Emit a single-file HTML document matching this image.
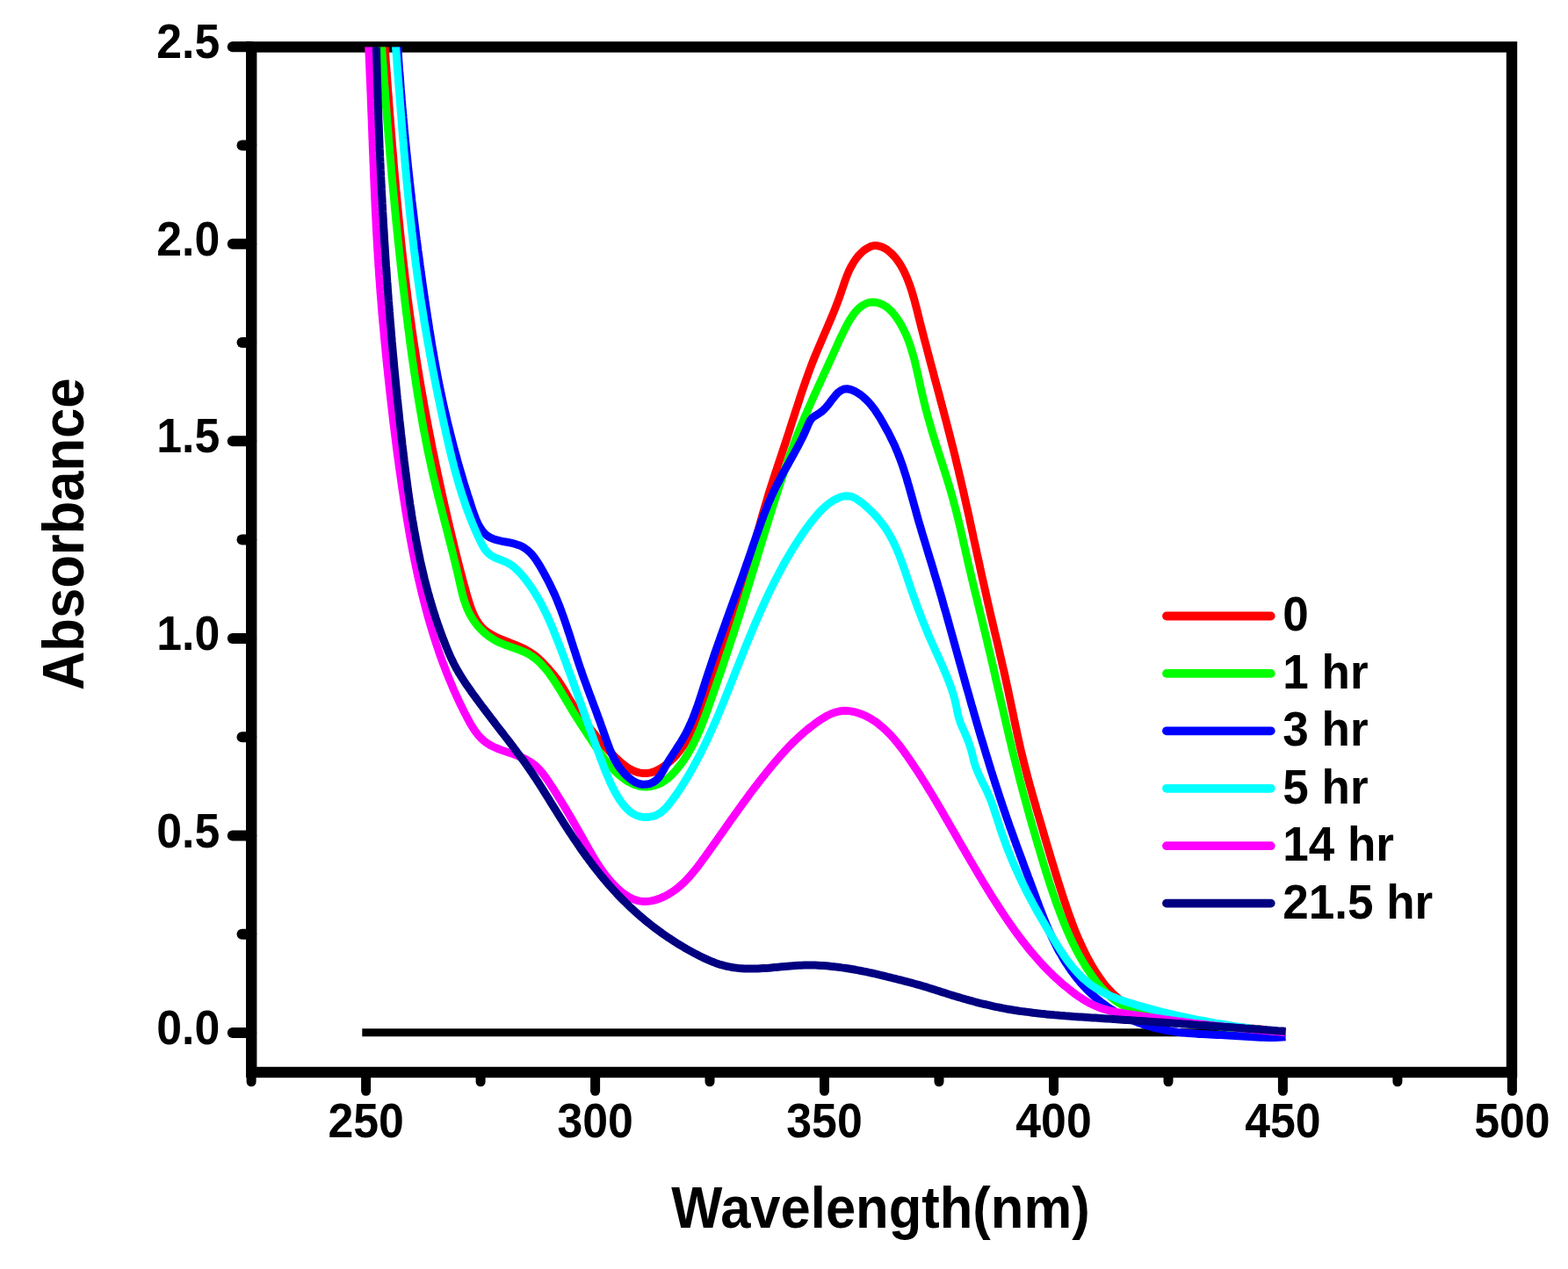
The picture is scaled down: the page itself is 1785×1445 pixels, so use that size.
<!DOCTYPE html>
<html lang="en"><head><meta charset="utf-8"><title>Absorbance vs Wavelength</title>
<style>
html,body{margin:0;padding:0;background:#fff;}
body{width:1785px;height:1445px;overflow:hidden;}
svg{display:block;}
text{font-family:"Liberation Sans",Arial,Helvetica,sans-serif;font-weight:bold;fill:#000;}
.tk{font-size:56px;}
.ti{font-size:66px;}
.lg{font-size:55px;}
</style></head><body>
<svg xmlns="http://www.w3.org/2000/svg" width="1785" height="1445" viewBox="0 0 1785 1445">
<rect x="0" y="0" width="1785" height="1445" fill="#fff"/>
<defs><clipPath id="plot"><rect x="286.2" y="53.5" width="1434.8" height="1167.5"/></clipPath></defs>

<rect x="286.2" y="53.5" width="1434.8" height="1167.5" fill="none" stroke="#000" stroke-width="12.4" stroke-linejoin="miter"/>
<g stroke="#000" stroke-width="12" stroke-linecap="round" fill="none">
<line x1="286.2" y1="1176.0" x2="264.8" y2="1176.0"/>
<line x1="286.2" y1="951.4" x2="264.8" y2="951.4"/>
<line x1="286.2" y1="726.9" x2="264.8" y2="726.9"/>
<line x1="286.2" y1="502.3" x2="264.8" y2="502.3"/>
<line x1="286.2" y1="277.8" x2="264.8" y2="277.8"/>
<line x1="286.2" y1="53.2" x2="264.8" y2="53.2"/>
<line x1="286.2" y1="1063.7" x2="275.5" y2="1063.7"/>
<line x1="286.2" y1="839.2" x2="275.5" y2="839.2"/>
<line x1="286.2" y1="614.6" x2="275.5" y2="614.6"/>
<line x1="286.2" y1="390.0" x2="275.5" y2="390.0"/>
<line x1="286.2" y1="165.5" x2="275.5" y2="165.5"/>
</g><g stroke="#000" stroke-width="11" stroke-linecap="round" fill="none">
<line x1="416.6" y1="1221.0" x2="416.6" y2="1242.3"/>
<line x1="677.6" y1="1221.0" x2="677.6" y2="1242.3"/>
<line x1="938.5" y1="1221.0" x2="938.5" y2="1242.3"/>
<line x1="1199.5" y1="1221.0" x2="1199.5" y2="1242.3"/>
<line x1="1460.4" y1="1221.0" x2="1460.4" y2="1242.3"/>
<line x1="1721.4" y1="1221.0" x2="1721.4" y2="1242.3"/>
<line x1="286.1" y1="1221.0" x2="286.1" y2="1231.8"/>
<line x1="547.1" y1="1221.0" x2="547.1" y2="1231.8"/>
<line x1="808.0" y1="1221.0" x2="808.0" y2="1231.8"/>
<line x1="1069.0" y1="1221.0" x2="1069.0" y2="1231.8"/>
<line x1="1330.0" y1="1221.0" x2="1330.0" y2="1231.8"/>
<line x1="1590.9" y1="1221.0" x2="1590.9" y2="1231.8"/>
</g>
<g class="tk" text-anchor="end">
<text transform="translate(250.2 1189.1) scale(0.925 1)">0.0</text>
<text transform="translate(250.2 964.5) scale(0.925 1)">0.5</text>
<text transform="translate(250.2 740.0) scale(0.925 1)">1.0</text>
<text transform="translate(250.2 515.4) scale(0.925 1)">1.5</text>
<text transform="translate(250.2 290.9) scale(0.925 1)">2.0</text>
<text transform="translate(250.2 66.3) scale(0.925 1)">2.5</text>
</g><g class="tk" text-anchor="middle">
<text transform="translate(416.6 1295.3) scale(0.925 1)">250</text>
<text transform="translate(677.6 1295.3) scale(0.925 1)">300</text>
<text transform="translate(938.5 1295.3) scale(0.925 1)">350</text>
<text transform="translate(1199.5 1295.3) scale(0.925 1)">400</text>
<text transform="translate(1460.4 1295.3) scale(0.925 1)">450</text>
<text transform="translate(1721.4 1295.3) scale(0.925 1)">500</text>
</g>
<text class="ti" text-anchor="middle" transform="translate(1002.5 1397.6) scale(0.9325 1)">Wavelength(nm)</text>
<text class="ti" text-anchor="middle" transform="translate(94.6 608.3) rotate(-90) scale(0.9325 1)">Absorbance</text>
<g clip-path="url(#plot)" fill="none" stroke-width="9.0" stroke-linejoin="round" stroke-linecap="butt">
<path d="M412.3,1175.8 L1463.5,1175.8" stroke="#000" stroke-width="9"/>
<path d="M435.9,23.6 L436.2,28.2 L436.5,32.7 L436.9,37.3 L437.2,41.9 L437.5,46.4 L437.9,51.0 L438.2,55.6 L438.5,60.1 L438.9,64.7 L439.2,69.3 L439.5,73.8 L439.9,78.4 L440.2,83.0 L440.6,87.5 L440.9,92.1 L441.2,96.7 L441.6,101.3 L441.9,105.8 L442.3,110.4 L442.6,115.0 L442.9,119.5 L443.3,124.1 L443.6,128.7 L444.0,133.2 L444.4,137.8 L444.7,142.4 L445.1,147.0 L445.4,151.5 L445.8,156.1 L446.2,160.7 L446.5,165.2 L446.9,169.8 L447.3,174.4 L447.7,178.9 L448.0,183.5 L448.4,188.1 L448.8,192.6 L449.2,197.2 L449.6,201.8 L450.0,206.3 L450.4,210.9 L450.8,215.5 L451.3,220.0 L451.7,224.6 L452.1,229.2 L452.5,233.7 L453.0,238.3 L453.4,242.9 L453.8,247.4 L454.3,252.0 L454.8,256.5 L455.2,261.1 L455.7,265.7 L456.2,270.2 L456.6,274.8 L457.1,279.3 L457.6,283.9 L458.1,288.5 L458.6,293.0 L459.1,297.6 L459.6,302.1 L460.2,306.7 L460.7,311.2 L461.2,315.8 L461.8,320.3 L462.3,324.9 L462.9,329.4 L463.5,334.0 L464.0,338.5 L464.6,343.1 L465.2,347.6 L465.8,352.1 L466.4,356.7 L467.0,361.2 L467.7,365.8 L468.3,370.3 L468.9,374.8 L469.6,379.4 L470.2,383.9 L470.9,388.4 L471.6,393.0 L472.3,397.5 L473.0,402.0 L473.7,406.6 L474.4,411.1 L475.1,415.6 L475.8,420.1 L476.6,424.6 L477.3,429.2 L478.1,433.7 L478.8,438.2 L479.6,442.7 L480.4,447.2 L481.2,451.8 L482.0,456.3 L482.8,460.8 L483.6,465.3 L484.4,469.8 L485.3,474.3 L486.1,478.8 L487.0,483.3 L487.8,487.8 L488.7,492.3 L489.6,496.8 L490.5,501.3 L491.3,505.8 L492.2,510.3 L493.1,514.8 L494.1,519.3 L495.0,523.8 L495.9,528.3 L496.9,532.8 L497.8,537.3 L498.8,541.8 L499.7,546.3 L500.7,550.7 L501.7,555.2 L502.6,559.7 L503.6,564.2 L504.6,568.7 L505.6,573.1 L506.6,577.6 L507.7,582.1 L508.7,586.6 L509.7,591.0 L510.8,595.5 L511.8,600.0 L512.9,604.4 L513.9,608.9 L515.0,613.3 L516.1,617.7 L517.1,622.2 L518.2,626.6 L519.3,631.0 L520.4,635.5 L521.5,639.9 L522.6,644.3 L523.8,648.7 L524.9,653.1 L526.1,657.5 L527.2,661.9 L528.4,666.3 L529.7,670.8 L530.9,675.3 L532.2,679.8 L533.6,684.3 L535.0,688.8 L536.5,693.2 L538.3,697.6 L540.2,701.8 L542.3,705.8 L544.7,709.5 L547.4,713.0 L550.5,716.1 L553.9,718.9 L557.6,721.4 L561.5,723.7 L565.6,725.8 L569.9,727.7 L574.3,729.5 L578.7,731.2 L583.1,732.9 L587.4,734.7 L591.6,736.4 L595.8,738.3 L599.7,740.4 L603.6,742.6 L607.2,745.1 L610.8,747.9 L614.2,750.9 L617.5,754.1 L620.7,757.5 L623.8,760.9 L626.9,764.4 L629.9,767.9 L632.8,771.5 L635.6,775.1 L638.1,778.9 L640.5,782.7 L642.8,786.6 L645.1,790.6 L647.3,794.5 L649.7,798.4 L652.1,802.2 L654.6,806.0 L657.2,809.8 L659.9,813.6 L662.5,817.3 L665.3,821.0 L668.0,824.6 L670.8,828.3 L673.6,831.9 L676.4,835.4 L679.2,839.0 L682.1,842.5 L685.1,845.9 L688.1,849.4 L691.2,852.8 L694.3,856.1 L697.6,859.4 L700.9,862.7 L704.3,865.9 L707.8,869.0 L711.5,871.9 L715.3,874.6 L719.3,876.8 L723.4,878.6 L727.6,879.9 L732.0,880.5 L736.4,880.5 L740.7,879.9 L744.9,878.6 L749.1,876.7 L753.1,874.3 L757.0,871.7 L760.7,868.7 L764.2,865.6 L767.5,862.4 L770.6,858.9 L773.5,855.4 L776.2,851.7 L778.8,847.9 L781.1,844.0 L783.4,840.0 L785.5,836.0 L787.5,831.9 L789.4,827.7 L791.2,823.5 L793.0,819.3 L794.8,815.1 L796.6,810.9 L798.3,806.6 L800.0,802.4 L801.7,798.1 L803.3,793.8 L805.0,789.6 L806.6,785.3 L808.2,781.0 L809.8,776.7 L811.3,772.4 L812.9,768.0 L814.4,763.7 L815.9,759.4 L817.4,755.0 L818.9,750.7 L820.4,746.4 L821.9,742.0 L823.3,737.7 L824.8,733.3 L826.3,729.0 L827.7,724.6 L829.1,720.3 L830.6,715.9 L832.0,711.6 L833.4,707.2 L834.8,702.9 L836.2,698.5 L837.6,694.1 L838.9,689.8 L840.3,685.4 L841.6,681.0 L842.9,676.6 L844.2,672.2 L845.5,667.9 L846.8,663.5 L848.1,659.1 L849.3,654.6 L850.6,650.2 L851.8,645.8 L853.0,641.4 L854.2,637.0 L855.4,632.5 L856.6,628.1 L857.8,623.7 L859.0,619.2 L860.2,614.8 L861.4,610.4 L862.6,605.9 L863.8,601.5 L865.0,597.1 L866.2,592.7 L867.4,588.3 L868.7,583.9 L870.0,579.5 L871.3,575.1 L872.6,570.7 L873.9,566.3 L875.2,561.9 L876.6,557.5 L878.0,553.2 L879.4,548.8 L880.8,544.5 L882.2,540.1 L883.7,535.8 L885.1,531.4 L886.5,527.1 L888.0,522.7 L889.4,518.4 L890.9,514.0 L892.3,509.7 L893.8,505.3 L895.2,501.0 L896.6,496.6 L898.0,492.3 L899.4,487.9 L900.8,483.5 L902.2,479.1 L903.6,474.8 L905.0,470.4 L906.4,466.0 L907.9,461.6 L909.3,457.3 L910.7,452.9 L912.1,448.5 L913.6,444.2 L915.1,439.8 L916.6,435.5 L918.1,431.2 L919.6,426.9 L921.2,422.6 L922.8,418.3 L924.4,414.0 L926.1,409.8 L927.8,405.5 L929.6,401.3 L931.3,397.1 L933.1,392.9 L934.9,388.7 L936.7,384.5 L938.5,380.3 L940.3,376.2 L942.1,372.0 L943.9,367.8 L945.7,363.5 L947.5,359.3 L949.2,355.1 L950.9,350.8 L952.6,346.5 L954.2,342.2 L955.8,337.9 L957.3,333.5 L958.8,329.1 L960.3,324.7 L961.8,320.3 L963.4,316.0 L965.1,311.7 L966.9,307.5 L969.0,303.4 L971.3,299.4 L973.8,295.6 L976.6,291.9 L979.8,288.5 L983.3,285.3 L987.1,282.7 L991.0,280.7 L995.1,279.7 L999.1,279.8 L1003.1,280.8 L1007.0,282.6 L1010.7,285.1 L1014.2,288.0 L1017.4,291.2 L1020.3,294.7 L1023.1,298.5 L1025.6,302.4 L1027.9,306.6 L1030.0,310.8 L1032.0,315.1 L1033.7,319.5 L1035.4,323.9 L1036.9,328.3 L1038.3,332.7 L1039.6,337.1 L1040.9,341.5 L1042.0,345.9 L1043.2,350.3 L1044.3,354.7 L1045.4,359.1 L1046.5,363.6 L1047.6,368.0 L1048.7,372.4 L1049.9,376.8 L1051.0,381.2 L1052.1,385.6 L1053.3,390.0 L1054.5,394.4 L1055.6,398.9 L1056.8,403.3 L1058.0,407.7 L1059.1,412.1 L1060.3,416.5 L1061.5,421.0 L1062.7,425.4 L1063.8,429.8 L1065.0,434.2 L1066.2,438.7 L1067.4,443.1 L1068.6,447.5 L1069.8,452.0 L1070.9,456.4 L1072.1,460.8 L1073.3,465.3 L1074.5,469.7 L1075.6,474.2 L1076.8,478.6 L1077.9,483.0 L1079.1,487.5 L1080.2,491.9 L1081.4,496.4 L1082.5,500.8 L1083.6,505.3 L1084.8,509.7 L1085.9,514.2 L1087.0,518.6 L1088.1,523.1 L1089.1,527.6 L1090.2,532.0 L1091.3,536.5 L1092.3,540.9 L1093.4,545.4 L1094.4,549.9 L1095.4,554.3 L1096.5,558.8 L1097.5,563.3 L1098.5,567.7 L1099.5,572.2 L1100.5,576.7 L1101.5,581.1 L1102.5,585.6 L1103.5,590.1 L1104.4,594.6 L1105.4,599.0 L1106.4,603.5 L1107.4,608.0 L1108.3,612.5 L1109.3,616.9 L1110.3,621.4 L1111.3,625.9 L1112.2,630.4 L1113.2,634.8 L1114.2,639.3 L1115.2,643.8 L1116.1,648.3 L1117.1,652.7 L1118.1,657.2 L1119.1,661.7 L1120.1,666.1 L1121.1,670.6 L1122.1,675.1 L1123.1,679.6 L1124.1,684.0 L1125.1,688.5 L1126.2,693.0 L1127.2,697.4 L1128.2,701.9 L1129.3,706.4 L1130.3,710.8 L1131.4,715.3 L1132.4,719.8 L1133.5,724.2 L1134.6,728.7 L1135.6,733.1 L1136.7,737.6 L1137.7,742.1 L1138.7,746.5 L1139.8,751.0 L1140.8,755.5 L1141.8,759.9 L1142.9,764.4 L1143.9,768.9 L1144.9,773.4 L1145.8,777.8 L1146.8,782.3 L1147.8,786.8 L1148.7,791.3 L1149.7,795.8 L1150.6,800.2 L1151.5,804.7 L1152.5,809.2 L1153.4,813.7 L1154.3,818.2 L1155.3,822.7 L1156.2,827.1 L1157.2,831.6 L1158.1,836.1 L1159.1,840.6 L1160.1,845.0 L1161.1,849.5 L1162.1,854.0 L1163.2,858.4 L1164.3,862.9 L1165.4,867.3 L1166.5,871.8 L1167.6,876.2 L1168.8,880.7 L1169.9,885.1 L1171.1,889.5 L1172.3,894.0 L1173.6,898.4 L1174.8,902.8 L1176.0,907.2 L1177.3,911.6 L1178.6,916.0 L1179.8,920.5 L1181.1,924.9 L1182.4,929.3 L1183.7,933.7 L1185.0,938.1 L1186.3,942.5 L1187.6,946.9 L1188.8,951.3 L1190.1,955.6 L1191.4,960.0 L1192.7,964.4 L1194.0,968.8 L1195.3,973.2 L1196.6,977.6 L1197.9,982.0 L1199.3,986.3 L1200.6,990.7 L1201.9,995.1 L1203.3,999.5 L1204.6,1003.8 L1206.0,1008.2 L1207.4,1012.6 L1208.8,1016.9 L1210.2,1021.3 L1211.7,1025.7 L1213.1,1030.0 L1214.6,1034.4 L1216.1,1038.7 L1217.6,1043.1 L1219.2,1047.4 L1220.8,1051.7 L1222.4,1056.0 L1224.1,1060.3 L1225.8,1064.5 L1227.6,1068.7 L1229.5,1072.9 L1231.4,1077.1 L1233.3,1081.2 L1235.3,1085.3 L1237.4,1089.4 L1239.6,1093.4 L1241.8,1097.4 L1244.1,1101.4 L1246.5,1105.3 L1248.9,1109.1 L1251.5,1112.9 L1254.2,1116.6 L1256.9,1120.3 L1259.8,1123.8 L1262.8,1127.2 L1266.0,1130.5 L1269.3,1133.6 L1272.7,1136.5 L1276.4,1139.3 L1280.1,1141.9 L1284.0,1144.4 L1288.0,1146.7 L1292.1,1148.7 L1296.4,1150.7 L1300.6,1152.4 L1305.0,1154.0 L1309.4,1155.5 L1313.8,1156.7 L1318.2,1157.8 L1322.7,1158.8 L1327.1,1159.7 L1331.6,1160.5 L1336.1,1161.2 L1340.6,1161.8 L1345.2,1162.4 L1349.7,1163.0 L1354.2,1163.6 L1358.8,1164.2 L1363.3,1164.8 L1367.9,1165.4 L1372.4,1165.9 L1377.0,1166.5 L1381.6,1167.0 L1386.1,1167.5 L1390.7,1168.0 L1395.2,1168.4 L1399.8,1168.9 L1404.4,1169.3 L1408.9,1169.7 L1413.5,1170.1 L1418.1,1170.5 L1422.6,1170.9 L1427.2,1171.3 L1431.7,1171.8 L1436.3,1172.3 L1440.8,1172.9 L1445.3,1173.5 L1449.9,1174.2 L1454.4,1175.0 L1458.9,1175.8 L1463.5,1176.7" stroke="#ff0000"/>
<path d="M432.6,23.6 L432.9,28.0 L433.2,32.4 L433.5,36.8 L433.8,41.3 L434.1,45.7 L434.4,50.1 L434.7,54.6 L435.0,59.0 L435.3,63.4 L435.6,67.8 L436.0,72.3 L436.3,76.7 L436.6,81.1 L436.9,85.6 L437.2,90.0 L437.5,94.4 L437.9,98.8 L438.2,103.3 L438.5,107.7 L438.9,112.1 L439.2,116.6 L439.5,121.0 L439.9,125.4 L440.2,129.8 L440.6,134.3 L440.9,138.7 L441.3,143.1 L441.6,147.5 L442.0,152.0 L442.3,156.4 L442.7,160.8 L443.1,165.2 L443.5,169.7 L443.8,174.1 L444.2,178.5 L444.6,182.9 L445.0,187.4 L445.4,191.8 L445.7,196.2 L446.1,200.6 L446.5,205.0 L446.9,209.5 L447.3,213.9 L447.7,218.3 L448.2,222.7 L448.6,227.2 L449.0,231.6 L449.4,236.0 L449.8,240.4 L450.3,244.8 L450.7,249.3 L451.1,253.7 L451.6,258.1 L452.0,262.5 L452.5,266.9 L452.9,271.3 L453.4,275.8 L453.9,280.2 L454.3,284.6 L454.8,289.0 L455.3,293.4 L455.8,297.8 L456.2,302.2 L456.7,306.7 L457.2,311.1 L457.7,315.5 L458.2,319.9 L458.7,324.3 L459.2,328.7 L459.8,333.1 L460.3,337.5 L460.8,341.9 L461.3,346.3 L461.9,350.7 L462.4,355.2 L463.0,359.6 L463.5,364.0 L464.1,368.4 L464.6,372.8 L465.2,377.2 L465.8,381.6 L466.3,386.0 L466.9,390.4 L467.5,394.8 L468.1,399.2 L468.7,403.6 L469.3,408.0 L469.9,412.4 L470.6,416.8 L471.2,421.2 L471.8,425.6 L472.5,429.9 L473.2,434.3 L473.8,438.7 L474.5,443.1 L475.2,447.5 L475.9,451.9 L476.6,456.3 L477.3,460.6 L478.1,465.0 L478.8,469.4 L479.6,473.8 L480.4,478.1 L481.1,482.5 L481.9,486.9 L482.7,491.2 L483.6,495.6 L484.4,500.0 L485.3,504.3 L486.1,508.7 L487.0,513.0 L487.9,517.4 L488.8,521.7 L489.8,526.1 L490.7,530.4 L491.7,534.7 L492.6,539.1 L493.6,543.4 L494.7,547.7 L495.7,552.1 L496.7,556.4 L497.8,560.7 L498.8,565.0 L499.9,569.3 L501.0,573.6 L502.1,577.9 L503.2,582.2 L504.3,586.5 L505.4,590.8 L506.5,595.1 L507.6,599.4 L508.7,603.7 L509.8,608.0 L510.9,612.3 L512.0,616.6 L513.1,620.9 L514.2,625.2 L515.3,629.4 L516.3,633.7 L517.4,638.0 L518.4,642.3 L519.5,646.6 L520.5,651.0 L521.5,655.3 L522.5,659.7 L523.5,664.1 L524.5,668.5 L525.5,672.8 L526.6,677.2 L527.8,681.5 L529.2,685.8 L530.7,690.0 L532.3,694.1 L534.2,698.1 L536.3,701.9 L538.6,705.7 L541.1,709.3 L543.8,712.7 L546.8,716.0 L549.9,719.1 L553.2,722.0 L556.7,724.7 L560.3,727.1 L564.1,729.4 L568.0,731.4 L572.1,733.1 L576.3,734.8 L580.5,736.3 L584.7,737.7 L588.9,739.2 L593.1,740.8 L597.2,742.5 L601.1,744.4 L604.8,746.7 L608.4,749.2 L611.8,752.0 L615.0,755.0 L618.1,758.3 L621.0,761.7 L623.9,765.2 L626.6,768.9 L629.1,772.6 L631.7,776.3 L634.1,780.1 L636.4,783.9 L638.8,787.6 L641.0,791.4 L643.3,795.2 L645.5,799.0 L647.8,802.7 L650.0,806.5 L652.3,810.3 L654.6,814.0 L657.0,817.8 L659.4,821.6 L661.8,825.3 L664.2,829.1 L666.7,832.8 L669.1,836.5 L671.6,840.2 L674.0,843.9 L676.4,847.6 L678.9,851.3 L681.4,854.9 L683.9,858.5 L686.5,862.1 L689.2,865.6 L692.0,869.1 L694.9,872.5 L697.9,875.8 L701.1,879.0 L704.4,882.1 L707.9,885.0 L711.5,887.7 L715.2,890.1 L719.1,892.1 L723.1,893.8 L727.2,895.0 L731.4,895.7 L735.7,895.9 L740.2,895.5 L744.5,894.6 L748.8,893.2 L752.9,891.3 L756.7,889.0 L760.3,886.3 L763.6,883.4 L766.7,880.2 L769.7,876.9 L772.5,873.4 L775.2,869.9 L777.8,866.4 L780.3,862.7 L782.6,859.0 L784.8,855.2 L787.0,851.4 L789.0,847.5 L791.0,843.5 L792.9,839.6 L794.7,835.5 L796.5,831.5 L798.2,827.4 L799.8,823.2 L801.4,819.1 L803.0,814.9 L804.5,810.7 L806.0,806.5 L807.5,802.3 L809.0,798.1 L810.5,793.9 L811.9,789.7 L813.4,785.5 L814.8,781.3 L816.3,777.1 L817.7,772.9 L819.2,768.7 L820.6,764.5 L822.1,760.3 L823.5,756.1 L824.9,751.9 L826.3,747.7 L827.7,743.5 L829.1,739.3 L830.5,735.1 L831.9,730.9 L833.3,726.7 L834.7,722.5 L836.1,718.2 L837.4,714.0 L838.8,709.8 L840.1,705.6 L841.5,701.4 L842.8,697.1 L844.1,692.9 L845.4,688.6 L846.8,684.4 L848.1,680.2 L849.4,675.9 L850.7,671.7 L852.0,667.4 L853.3,663.2 L854.6,658.9 L855.9,654.7 L857.2,650.4 L858.5,646.2 L859.8,641.9 L861.1,637.7 L862.3,633.4 L863.6,629.2 L864.9,624.9 L866.2,620.7 L867.5,616.4 L868.8,612.2 L870.1,607.9 L871.4,603.7 L872.7,599.4 L874.0,595.2 L875.3,590.9 L876.7,586.7 L878.0,582.5 L879.3,578.2 L880.6,574.0 L882.0,569.8 L883.3,565.5 L884.7,561.3 L886.0,557.1 L887.4,552.9 L888.8,548.7 L890.2,544.4 L891.6,540.2 L893.0,536.0 L894.4,531.8 L895.9,527.7 L897.3,523.5 L898.8,519.3 L900.3,515.1 L901.8,510.9 L903.4,506.8 L904.9,502.6 L906.5,498.5 L908.1,494.3 L909.8,490.2 L911.4,486.1 L913.1,482.0 L914.8,477.9 L916.5,473.8 L918.3,469.7 L920.1,465.6 L921.9,461.5 L923.7,457.5 L925.5,453.4 L927.3,449.3 L929.2,445.3 L931.0,441.2 L932.9,437.2 L934.7,433.2 L936.6,429.1 L938.4,425.1 L940.3,421.1 L942.1,417.1 L943.9,413.1 L945.8,409.1 L947.6,405.1 L949.4,401.1 L951.2,397.1 L953.0,393.1 L954.8,389.0 L956.7,385.0 L958.7,381.0 L960.6,377.0 L962.7,372.9 L964.8,368.8 L967.1,364.8 L969.6,360.9 L972.2,357.2 L975.1,353.7 L978.3,350.6 L981.8,347.9 L985.5,345.9 L989.3,344.5 L993.3,344.0 L997.3,344.3 L1001.3,345.3 L1005.2,347.0 L1009.0,349.3 L1012.4,352.1 L1015.6,355.4 L1018.6,358.9 L1021.3,362.7 L1023.8,366.5 L1026.1,370.4 L1028.2,374.4 L1030.2,378.4 L1032.0,382.4 L1033.7,386.5 L1035.2,390.7 L1036.6,394.8 L1037.9,399.1 L1039.2,403.3 L1040.4,407.5 L1041.5,411.8 L1042.5,416.1 L1043.5,420.4 L1044.5,424.8 L1045.5,429.1 L1046.4,433.4 L1047.4,437.8 L1048.3,442.1 L1049.3,446.5 L1050.3,450.8 L1051.3,455.1 L1052.4,459.4 L1053.4,463.7 L1054.6,468.0 L1055.7,472.3 L1056.9,476.6 L1058.1,480.9 L1059.3,485.1 L1060.5,489.4 L1061.8,493.6 L1063.1,497.9 L1064.4,502.1 L1065.7,506.4 L1067.1,510.6 L1068.4,514.8 L1069.8,519.1 L1071.1,523.3 L1072.5,527.5 L1073.8,531.7 L1075.2,536.0 L1076.5,540.2 L1077.8,544.4 L1079.1,548.7 L1080.4,552.9 L1081.7,557.2 L1082.9,561.5 L1084.1,565.7 L1085.3,570.0 L1086.4,574.3 L1087.6,578.6 L1088.7,582.9 L1089.7,587.2 L1090.8,591.5 L1091.8,595.8 L1092.9,600.1 L1093.9,604.5 L1094.9,608.8 L1095.9,613.1 L1096.8,617.5 L1097.8,621.8 L1098.8,626.1 L1099.8,630.5 L1100.8,634.8 L1101.7,639.1 L1102.7,643.4 L1103.8,647.8 L1104.8,652.1 L1105.8,656.4 L1106.8,660.7 L1107.9,665.0 L1108.9,669.4 L1109.9,673.7 L1111.0,678.0 L1112.1,682.3 L1113.1,686.6 L1114.2,690.9 L1115.2,695.2 L1116.3,699.5 L1117.3,703.8 L1118.4,708.2 L1119.4,712.5 L1120.5,716.8 L1121.5,721.1 L1122.6,725.4 L1123.6,729.7 L1124.6,734.1 L1125.6,738.4 L1126.7,742.7 L1127.7,747.0 L1128.7,751.4 L1129.7,755.7 L1130.7,760.0 L1131.7,764.3 L1132.7,768.7 L1133.6,773.0 L1134.6,777.3 L1135.6,781.6 L1136.6,786.0 L1137.6,790.3 L1138.6,794.6 L1139.6,799.0 L1140.6,803.3 L1141.6,807.6 L1142.6,812.0 L1143.6,816.3 L1144.6,820.6 L1145.6,824.9 L1146.6,829.3 L1147.6,833.6 L1148.6,837.9 L1149.6,842.2 L1150.7,846.5 L1151.7,850.9 L1152.7,855.2 L1153.8,859.5 L1154.9,863.8 L1155.9,868.1 L1157.0,872.4 L1158.1,876.7 L1159.2,881.0 L1160.3,885.3 L1161.4,889.6 L1162.5,893.9 L1163.6,898.2 L1164.8,902.5 L1165.9,906.8 L1167.1,911.0 L1168.3,915.3 L1169.4,919.6 L1170.6,923.9 L1171.8,928.2 L1173.0,932.4 L1174.2,936.7 L1175.4,941.0 L1176.7,945.2 L1177.9,949.5 L1179.1,953.8 L1180.4,958.0 L1181.6,962.3 L1182.9,966.5 L1184.2,970.8 L1185.4,975.1 L1186.7,979.3 L1188.0,983.6 L1189.3,987.8 L1190.6,992.1 L1191.9,996.3 L1193.3,1000.5 L1194.6,1004.8 L1196.0,1009.0 L1197.4,1013.2 L1198.8,1017.4 L1200.3,1021.6 L1201.7,1025.8 L1203.2,1030.0 L1204.8,1034.1 L1206.3,1038.3 L1207.9,1042.4 L1209.5,1046.6 L1211.1,1050.7 L1212.8,1054.8 L1214.5,1058.9 L1216.3,1062.9 L1218.1,1067.0 L1220.0,1071.0 L1221.9,1075.0 L1223.9,1078.9 L1225.9,1082.9 L1228.0,1086.8 L1230.1,1090.7 L1232.4,1094.5 L1234.7,1098.3 L1237.0,1102.1 L1239.5,1105.8 L1242.0,1109.5 L1244.6,1113.1 L1247.3,1116.7 L1250.1,1120.2 L1253.0,1123.7 L1255.9,1127.0 L1259.0,1130.2 L1262.3,1133.3 L1265.6,1136.2 L1269.1,1138.9 L1272.6,1141.4 L1276.4,1143.7 L1280.2,1145.7 L1284.2,1147.6 L1288.3,1149.3 L1292.5,1150.8 L1296.7,1152.1 L1301.0,1153.4 L1305.3,1154.6 L1309.6,1155.7 L1314.0,1156.7 L1318.3,1157.7 L1322.7,1158.6 L1327.0,1159.5 L1331.4,1160.3 L1335.8,1161.1 L1340.1,1161.9 L1344.5,1162.6 L1348.9,1163.3 L1353.3,1164.0 L1357.6,1164.7 L1362.0,1165.3 L1366.4,1166.0 L1370.8,1166.6 L1375.2,1167.2 L1379.6,1167.8 L1384.0,1168.4 L1388.4,1169.0 L1392.8,1169.6 L1397.2,1170.2 L1401.6,1170.8 L1406.0,1171.4 L1410.4,1172.0 L1414.8,1172.6 L1419.2,1173.1 L1423.6,1173.6 L1428.0,1174.1 L1432.5,1174.5 L1436.9,1174.9 L1441.3,1175.3 L1445.7,1175.5 L1450.2,1175.8 L1454.6,1175.9 L1459.1,1176.0 L1463.5,1176.0" stroke="#00ff00"/>
<path d="M450.9,23.5 L451.2,27.6 L451.4,31.7 L451.7,35.8 L451.9,39.9 L452.2,44.0 L452.5,48.1 L452.7,52.2 L453.0,56.3 L453.3,60.4 L453.6,64.5 L453.8,68.6 L454.1,72.7 L454.4,76.8 L454.7,80.9 L455.1,85.0 L455.4,89.1 L455.7,93.2 L456.0,97.3 L456.3,101.4 L456.7,105.5 L457.0,109.6 L457.3,113.7 L457.7,117.8 L458.0,121.9 L458.4,126.0 L458.8,130.1 L459.1,134.1 L459.5,138.2 L459.9,142.3 L460.2,146.4 L460.6,150.5 L461.0,154.6 L461.4,158.7 L461.8,162.8 L462.2,166.9 L462.6,171.0 L463.0,175.1 L463.5,179.2 L463.9,183.2 L464.3,187.3 L464.7,191.4 L465.2,195.5 L465.6,199.6 L466.1,203.7 L466.5,207.8 L467.0,211.9 L467.4,215.9 L467.9,220.0 L468.4,224.1 L468.8,228.2 L469.3,232.3 L469.8,236.4 L470.3,240.4 L470.8,244.5 L471.3,248.6 L471.8,252.7 L472.3,256.8 L472.8,260.8 L473.3,264.9 L473.8,269.0 L474.3,273.1 L474.9,277.1 L475.4,281.2 L475.9,285.3 L476.5,289.4 L477.0,293.4 L477.6,297.5 L478.1,301.6 L478.7,305.6 L479.2,309.7 L479.8,313.8 L480.4,317.9 L480.9,321.9 L481.5,326.0 L482.1,330.0 L482.7,334.1 L483.3,338.2 L483.9,342.2 L484.5,346.3 L485.1,350.4 L485.7,354.4 L486.3,358.5 L486.9,362.5 L487.6,366.6 L488.2,370.6 L488.8,374.7 L489.5,378.7 L490.1,382.8 L490.8,386.9 L491.4,390.9 L492.1,395.0 L492.8,399.0 L493.5,403.1 L494.2,407.1 L494.9,411.2 L495.7,415.2 L496.4,419.2 L497.2,423.3 L497.9,427.3 L498.7,431.4 L499.5,435.4 L500.3,439.5 L501.2,443.5 L502.0,447.6 L502.9,451.6 L503.7,455.6 L504.6,459.7 L505.5,463.7 L506.4,467.7 L507.4,471.8 L508.3,475.8 L509.2,479.8 L510.2,483.8 L511.2,487.8 L512.2,491.7 L513.1,495.7 L514.2,499.7 L515.2,503.6 L516.2,507.5 L517.2,511.5 L518.3,515.4 L519.4,519.3 L520.4,523.2 L521.5,527.1 L522.6,531.1 L523.8,535.0 L524.9,538.9 L526.1,542.8 L527.2,546.7 L528.4,550.7 L529.6,554.6 L530.9,558.6 L532.1,562.6 L533.4,566.5 L534.7,570.5 L536.0,574.6 L537.3,578.6 L538.6,582.7 L540.1,586.7 L541.6,590.7 L543.2,594.5 L545.0,598.2 L547.1,601.6 L549.3,604.8 L551.9,607.6 L554.8,610.1 L558.0,612.1 L561.6,613.7 L565.5,614.9 L569.7,615.9 L573.9,616.8 L578.2,617.5 L582.5,618.4 L586.5,619.4 L590.4,620.7 L594.0,622.2 L597.3,624.2 L600.4,626.4 L603.3,629.0 L606.0,631.9 L608.5,635.1 L610.9,638.5 L613.2,642.1 L615.4,645.8 L617.5,649.4 L619.5,653.1 L621.5,656.7 L623.4,660.4 L625.3,664.0 L627.1,667.7 L628.8,671.3 L630.5,675.0 L632.2,678.7 L633.8,682.5 L635.3,686.2 L636.8,690.0 L638.3,693.8 L639.7,697.7 L641.1,701.5 L642.5,705.4 L643.8,709.3 L645.1,713.2 L646.4,717.1 L647.7,721.0 L649.0,724.9 L650.2,728.9 L651.5,732.8 L652.7,736.7 L654.0,740.7 L655.3,744.6 L656.5,748.5 L657.8,752.4 L659.1,756.3 L660.4,760.2 L661.8,764.1 L663.1,768.0 L664.5,771.9 L665.9,775.7 L667.3,779.6 L668.7,783.4 L670.1,787.2 L671.5,791.1 L673.0,794.9 L674.4,798.7 L675.8,802.6 L677.3,806.4 L678.7,810.3 L680.1,814.1 L681.5,818.0 L683.0,821.8 L684.3,825.7 L685.7,829.6 L687.1,833.5 L688.5,837.4 L689.8,841.3 L691.2,845.2 L692.7,849.1 L694.2,853.0 L695.7,856.7 L697.4,860.5 L699.2,864.1 L701.2,867.6 L703.3,871.1 L705.6,874.4 L708.1,877.6 L710.8,880.7 L713.7,883.6 L716.8,886.3 L720.1,888.9 L723.7,891.0 L727.6,892.5 L731.7,893.2 L735.8,893.1 L739.9,892.3 L743.6,890.7 L746.8,888.5 L749.6,885.7 L752.0,882.5 L754.1,879.0 L756.2,875.3 L758.2,871.6 L760.3,868.0 L762.5,864.4 L764.8,860.9 L767.0,857.4 L769.3,854.0 L771.5,850.5 L773.8,847.0 L775.9,843.6 L778.0,840.0 L780.0,836.5 L781.9,832.9 L783.7,829.2 L785.4,825.5 L787.1,821.8 L788.7,818.0 L790.2,814.2 L791.6,810.4 L793.0,806.5 L794.4,802.7 L795.7,798.8 L797.0,794.9 L798.3,791.0 L799.6,787.0 L800.8,783.1 L802.1,779.2 L803.3,775.3 L804.6,771.3 L805.9,767.4 L807.2,763.5 L808.5,759.6 L809.8,755.7 L811.1,751.8 L812.4,747.9 L813.7,744.0 L815.1,740.1 L816.4,736.2 L817.8,732.4 L819.2,728.5 L820.5,724.6 L821.9,720.7 L823.3,716.9 L824.7,713.0 L826.1,709.1 L827.4,705.3 L828.8,701.4 L830.2,697.6 L831.6,693.7 L833.0,689.8 L834.4,686.0 L835.8,682.1 L837.2,678.3 L838.6,674.4 L840.0,670.5 L841.4,666.7 L842.8,662.8 L844.2,658.9 L845.5,655.1 L846.9,651.2 L848.3,647.3 L849.6,643.4 L851.0,639.6 L852.3,635.7 L853.7,631.8 L855.0,627.9 L856.3,624.0 L857.6,620.1 L859.0,616.2 L860.3,612.3 L861.6,608.4 L863.0,604.6 L864.3,600.7 L865.7,596.8 L867.1,592.9 L868.6,589.1 L870.0,585.2 L871.5,581.4 L873.0,577.6 L874.5,573.8 L876.1,570.0 L877.8,566.3 L879.4,562.5 L881.2,558.8 L883.0,555.1 L884.8,551.4 L886.7,547.8 L888.6,544.2 L890.5,540.5 L892.5,536.9 L894.5,533.3 L896.5,529.7 L898.5,526.1 L900.5,522.5 L902.5,519.0 L904.5,515.4 L906.5,511.7 L908.4,508.1 L910.3,504.5 L912.2,500.8 L914.0,497.2 L915.7,493.5 L917.4,489.7 L919.0,486.0 L920.6,482.2 L922.4,478.7 L924.9,475.6 L928.2,473.3 L931.9,471.1 L935.2,468.8 L938.2,466.1 L940.9,463.2 L943.5,460.1 L946.0,456.7 L948.6,453.3 L951.4,449.9 L954.2,446.9 L957.4,444.6 L960.7,443.1 L964.4,442.8 L968.2,443.5 L972.1,445.0 L976.0,447.2 L979.6,449.6 L983.0,452.3 L986.1,455.1 L989.0,458.1 L991.7,461.2 L994.2,464.4 L996.6,467.7 L998.8,471.1 L1001.0,474.5 L1003.1,478.0 L1005.1,481.5 L1007.1,485.1 L1009.1,488.7 L1011.1,492.3 L1013.0,496.0 L1014.8,499.7 L1016.6,503.4 L1018.4,507.1 L1020.0,510.9 L1021.6,514.7 L1023.1,518.5 L1024.6,522.4 L1026.0,526.2 L1027.4,530.1 L1028.7,534.0 L1029.9,537.9 L1031.2,541.8 L1032.4,545.7 L1033.5,549.7 L1034.7,553.6 L1035.8,557.6 L1036.9,561.5 L1038.0,565.5 L1039.1,569.4 L1040.2,573.4 L1041.3,577.4 L1042.4,581.3 L1043.5,585.3 L1044.6,589.3 L1045.7,593.2 L1046.9,597.2 L1048.1,601.1 L1049.2,605.0 L1050.4,609.0 L1051.6,612.9 L1052.8,616.8 L1054.0,620.8 L1055.2,624.7 L1056.4,628.6 L1057.6,632.6 L1058.8,636.5 L1060.0,640.4 L1061.2,644.4 L1062.4,648.3 L1063.5,652.2 L1064.7,656.2 L1065.9,660.1 L1067.1,664.0 L1068.2,668.0 L1069.4,671.9 L1070.5,675.9 L1071.7,679.8 L1072.8,683.8 L1073.9,687.7 L1075.0,691.7 L1076.2,695.6 L1077.3,699.6 L1078.4,703.5 L1079.5,707.5 L1080.6,711.4 L1081.7,715.4 L1082.8,719.4 L1083.9,723.3 L1085.0,727.3 L1086.1,731.2 L1087.2,735.2 L1088.3,739.1 L1089.4,743.1 L1090.5,747.1 L1091.6,751.0 L1092.7,755.0 L1093.8,758.9 L1094.9,762.9 L1096.0,766.9 L1097.1,770.8 L1098.2,774.8 L1099.3,778.7 L1100.4,782.7 L1101.6,786.7 L1102.7,790.6 L1103.8,794.6 L1104.9,798.5 L1106.0,802.5 L1107.2,806.4 L1108.3,810.4 L1109.4,814.3 L1110.6,818.3 L1111.7,822.2 L1112.9,826.2 L1114.0,830.1 L1115.2,834.1 L1116.3,838.0 L1117.5,841.9 L1118.7,845.9 L1119.9,849.8 L1121.1,853.8 L1122.3,857.7 L1123.5,861.6 L1124.7,865.5 L1125.9,869.5 L1127.1,873.4 L1128.3,877.3 L1129.6,881.2 L1130.8,885.2 L1132.1,889.1 L1133.3,893.0 L1134.6,896.9 L1135.9,900.8 L1137.1,904.7 L1138.4,908.6 L1139.7,912.5 L1141.0,916.4 L1142.3,920.3 L1143.7,924.2 L1145.0,928.1 L1146.3,931.9 L1147.7,935.8 L1149.0,939.7 L1150.4,943.6 L1151.8,947.4 L1153.2,951.3 L1154.6,955.2 L1156.0,959.0 L1157.4,962.9 L1158.8,966.7 L1160.2,970.6 L1161.6,974.4 L1163.1,978.3 L1164.5,982.2 L1165.9,986.0 L1167.3,989.9 L1168.8,993.7 L1170.2,997.6 L1171.7,1001.4 L1173.1,1005.3 L1174.5,1009.1 L1176.0,1013.0 L1177.4,1016.8 L1178.8,1020.7 L1180.2,1024.6 L1181.7,1028.4 L1183.1,1032.3 L1184.6,1036.1 L1186.1,1040.0 L1187.6,1043.8 L1189.1,1047.6 L1190.6,1051.4 L1192.2,1055.2 L1193.8,1059.0 L1195.5,1062.7 L1197.2,1066.5 L1199.0,1070.2 L1200.8,1073.9 L1202.6,1077.5 L1204.5,1081.2 L1206.5,1084.8 L1208.6,1088.3 L1210.7,1091.9 L1212.8,1095.4 L1215.1,1098.8 L1217.3,1102.2 L1219.7,1105.6 L1222.1,1108.9 L1224.6,1112.2 L1227.2,1115.4 L1229.8,1118.5 L1232.5,1121.6 L1235.3,1124.6 L1238.1,1127.5 L1241.0,1130.4 L1244.0,1133.2 L1247.1,1135.9 L1250.2,1138.5 L1253.4,1141.1 L1256.7,1143.5 L1260.0,1145.9 L1263.4,1148.2 L1266.9,1150.4 L1270.4,1152.5 L1274.0,1154.5 L1277.7,1156.4 L1281.4,1158.3 L1285.1,1160.0 L1288.9,1161.7 L1292.8,1163.3 L1296.6,1164.7 L1300.5,1166.1 L1304.5,1167.4 L1308.4,1168.6 L1312.4,1169.8 L1316.4,1170.8 L1320.4,1171.7 L1324.4,1172.6 L1328.4,1173.3 L1332.5,1174.0 L1336.5,1174.6 L1340.5,1175.2 L1344.6,1175.7 L1348.7,1176.1 L1352.7,1176.5 L1356.8,1176.8 L1360.9,1177.1 L1365.0,1177.4 L1369.1,1177.6 L1373.2,1177.8 L1377.3,1178.0 L1381.4,1178.2 L1385.5,1178.4 L1389.6,1178.6 L1393.7,1178.8 L1397.8,1179.0 L1401.9,1179.3 L1406.0,1179.5 L1410.1,1179.8 L1414.3,1180.1 L1418.4,1180.3 L1422.5,1180.6 L1426.6,1180.8 L1430.7,1181.0 L1434.8,1181.2 L1438.9,1181.3 L1443.0,1181.4 L1447.1,1181.4 L1451.2,1181.4 L1455.3,1181.3 L1459.4,1181.1 L1463.5,1180.8" stroke="#0000ff"/>
<path d="M448.2,23.6 L448.5,27.5 L448.8,31.3 L449.1,35.1 L449.4,38.9 L449.7,42.7 L450.0,46.5 L450.3,50.3 L450.6,54.1 L450.9,57.9 L451.2,61.7 L451.5,65.5 L451.8,69.3 L452.0,73.2 L452.3,77.0 L452.6,80.8 L452.9,84.6 L453.2,88.4 L453.5,92.2 L453.8,96.0 L454.1,99.9 L454.4,103.7 L454.7,107.5 L455.0,111.3 L455.3,115.1 L455.6,118.9 L455.9,122.7 L456.2,126.6 L456.5,130.4 L456.8,134.2 L457.1,138.0 L457.4,141.8 L457.7,145.6 L458.0,149.5 L458.3,153.3 L458.6,157.1 L459.0,160.9 L459.3,164.7 L459.6,168.5 L459.9,172.3 L460.3,176.2 L460.6,180.0 L460.9,183.8 L461.3,187.6 L461.6,191.4 L462.0,195.2 L462.3,199.0 L462.7,202.9 L463.0,206.7 L463.4,210.5 L463.7,214.3 L464.1,218.1 L464.5,221.9 L464.9,225.7 L465.2,229.5 L465.6,233.3 L466.0,237.1 L466.4,241.0 L466.8,244.8 L467.2,248.6 L467.6,252.4 L468.1,256.2 L468.5,260.0 L468.9,263.8 L469.4,267.6 L469.8,271.4 L470.2,275.2 L470.7,279.0 L471.1,282.8 L471.6,286.6 L472.1,290.4 L472.6,294.2 L473.0,298.0 L473.5,301.8 L474.0,305.5 L474.5,309.3 L475.0,313.1 L475.6,316.9 L476.1,320.7 L476.6,324.5 L477.2,328.3 L477.7,332.1 L478.3,335.8 L478.8,339.6 L479.4,343.4 L480.0,347.2 L480.6,351.0 L481.2,354.7 L481.8,358.5 L482.4,362.3 L483.0,366.1 L483.6,369.8 L484.2,373.6 L484.9,377.4 L485.5,381.1 L486.2,384.9 L486.8,388.7 L487.5,392.4 L488.2,396.2 L488.8,400.0 L489.5,403.7 L490.2,407.5 L490.9,411.3 L491.6,415.0 L492.3,418.8 L493.0,422.5 L493.8,426.3 L494.5,430.1 L495.2,433.8 L496.0,437.6 L496.7,441.3 L497.5,445.1 L498.2,448.8 L499.0,452.6 L499.8,456.3 L500.6,460.1 L501.3,463.8 L502.1,467.6 L502.9,471.3 L503.7,475.1 L504.5,478.8 L505.3,482.6 L506.2,486.3 L507.0,490.1 L507.8,493.8 L508.7,497.5 L509.5,501.3 L510.4,505.0 L511.2,508.8 L512.1,512.5 L513.0,516.2 L513.9,519.9 L514.8,523.7 L515.8,527.4 L516.7,531.1 L517.7,534.8 L518.7,538.5 L519.7,542.2 L520.8,545.8 L521.8,549.5 L522.9,553.2 L524.0,556.8 L525.1,560.5 L526.3,564.1 L527.5,567.7 L528.7,571.4 L529.9,575.0 L531.2,578.6 L532.5,582.1 L533.8,585.7 L535.2,589.3 L536.6,592.8 L538.0,596.4 L539.5,599.9 L541.0,603.4 L542.5,606.9 L544.1,610.3 L545.7,613.8 L547.4,617.3 L549.1,620.7 L551.0,623.9 L553.1,627.0 L555.6,629.8 L558.5,632.1 L561.8,634.1 L565.5,635.8 L569.3,637.3 L573.1,638.8 L576.8,640.4 L580.2,642.3 L583.3,644.3 L586.1,646.6 L588.8,649.1 L591.4,651.7 L593.9,654.5 L596.3,657.4 L598.7,660.4 L601.0,663.5 L603.3,666.6 L605.5,669.8 L607.6,673.0 L609.7,676.3 L611.7,679.6 L613.6,682.9 L615.4,686.2 L617.2,689.6 L618.9,693.0 L620.6,696.4 L622.3,699.8 L623.9,703.3 L625.4,706.8 L626.9,710.3 L628.4,713.8 L629.9,717.3 L631.3,720.8 L632.7,724.4 L634.1,727.9 L635.5,731.5 L636.9,735.0 L638.3,738.6 L639.6,742.2 L641.0,745.8 L642.3,749.4 L643.7,752.9 L645.0,756.5 L646.3,760.1 L647.6,763.7 L649.0,767.3 L650.3,770.9 L651.6,774.5 L652.9,778.1 L654.2,781.8 L655.5,785.4 L656.8,789.0 L658.1,792.6 L659.4,796.2 L660.7,799.8 L662.0,803.4 L663.3,807.0 L664.5,810.6 L665.8,814.2 L667.1,817.9 L668.4,821.5 L669.7,825.1 L671.0,828.7 L672.3,832.3 L673.6,835.8 L674.9,839.4 L676.2,843.0 L677.5,846.6 L678.8,850.2 L680.1,853.8 L681.4,857.3 L682.7,860.9 L684.0,864.4 L685.4,868.0 L686.7,871.5 L688.1,875.1 L689.4,878.6 L690.9,882.1 L692.4,885.6 L693.9,889.1 L695.5,892.6 L697.2,896.1 L699.0,899.6 L700.8,903.0 L702.8,906.5 L704.9,909.9 L707.1,913.1 L709.5,916.3 L712.0,919.2 L714.6,921.9 L717.4,924.3 L720.4,926.4 L723.6,928.1 L727.0,929.4 L730.6,930.2 L734.4,930.6 L738.2,930.4 L742.1,929.8 L745.8,928.7 L749.2,927.1 L752.4,925.0 L755.3,922.6 L758.1,919.9 L760.6,917.0 L763.1,913.9 L765.4,910.8 L767.7,907.7 L770.0,904.5 L772.2,901.4 L774.3,898.2 L776.4,894.9 L778.4,891.7 L780.4,888.5 L782.4,885.2 L784.4,881.9 L786.3,878.6 L788.2,875.3 L790.0,871.9 L791.8,868.6 L793.6,865.2 L795.4,861.9 L797.2,858.5 L798.9,855.1 L800.6,851.6 L802.2,848.2 L803.9,844.8 L805.5,841.3 L807.1,837.9 L808.7,834.4 L810.3,830.9 L811.8,827.4 L813.4,823.9 L814.9,820.4 L816.4,816.9 L817.9,813.4 L819.4,809.9 L820.9,806.3 L822.3,802.8 L823.8,799.2 L825.2,795.7 L826.6,792.1 L828.1,788.6 L829.5,785.0 L830.9,781.5 L832.3,777.9 L833.7,774.3 L835.1,770.8 L836.5,767.2 L837.9,763.6 L839.3,760.1 L840.8,756.5 L842.2,752.9 L843.6,749.4 L845.0,745.8 L846.4,742.3 L847.8,738.7 L849.3,735.1 L850.7,731.6 L852.2,728.0 L853.6,724.5 L855.1,721.0 L856.6,717.4 L858.0,713.9 L859.5,710.4 L861.0,706.9 L862.6,703.4 L864.1,699.9 L865.6,696.4 L867.2,692.9 L868.8,689.4 L870.4,685.9 L872.0,682.4 L873.6,679.0 L875.2,675.5 L876.9,672.1 L878.6,668.7 L880.3,665.3 L882.0,661.8 L883.7,658.4 L885.5,655.1 L887.3,651.7 L889.1,648.3 L890.9,645.0 L892.7,641.6 L894.6,638.3 L896.5,635.0 L898.5,631.7 L900.4,628.4 L902.4,625.1 L904.4,621.9 L906.5,618.6 L908.6,615.4 L910.7,612.2 L912.8,609.0 L915.0,605.9 L917.2,602.7 L919.5,599.6 L921.8,596.6 L924.2,593.5 L926.6,590.5 L929.0,587.6 L931.5,584.7 L934.1,581.9 L936.8,579.2 L939.6,576.6 L942.6,574.1 L945.7,571.9 L948.9,569.7 L952.4,567.9 L955.9,566.3 L959.5,565.2 L963.1,564.7 L966.7,564.9 L970.1,565.7 L973.5,567.3 L976.7,569.3 L979.9,571.6 L983.0,574.1 L986.0,576.7 L988.9,579.3 L991.7,582.0 L994.5,584.8 L997.1,587.6 L999.7,590.5 L1002.1,593.4 L1004.4,596.4 L1006.7,599.5 L1008.8,602.6 L1010.8,605.8 L1012.7,609.0 L1014.5,612.4 L1016.3,615.7 L1018.0,619.1 L1019.6,622.6 L1021.1,626.0 L1022.6,629.6 L1024.0,633.1 L1025.4,636.7 L1026.7,640.3 L1028.0,643.9 L1029.3,647.6 L1030.6,651.2 L1031.8,654.9 L1033.0,658.5 L1034.3,662.2 L1035.5,665.8 L1036.7,669.5 L1038.0,673.1 L1039.2,676.7 L1040.5,680.3 L1041.8,683.9 L1043.1,687.5 L1044.4,691.1 L1045.7,694.7 L1047.1,698.2 L1048.5,701.8 L1049.8,705.4 L1051.2,708.9 L1052.7,712.4 L1054.1,715.9 L1055.6,719.5 L1057.0,723.0 L1058.5,726.5 L1060.1,730.0 L1061.6,733.5 L1063.2,737.0 L1064.7,740.5 L1066.3,743.9 L1067.9,747.4 L1069.5,750.9 L1071.1,754.4 L1072.7,757.9 L1074.2,761.4 L1075.7,764.9 L1077.2,768.5 L1078.6,772.0 L1080.0,775.6 L1081.4,779.2 L1082.7,782.8 L1083.9,786.4 L1085.0,790.0 L1086.1,793.7 L1087.1,797.4 L1088.0,801.1 L1088.8,804.9 L1089.5,808.7 L1090.3,812.4 L1091.2,816.2 L1092.3,819.8 L1093.5,823.4 L1095.0,827.0 L1096.5,830.5 L1098.1,834.0 L1099.6,837.5 L1101.1,841.0 L1102.5,844.6 L1103.7,848.2 L1104.9,851.8 L1106.0,855.5 L1106.9,859.2 L1107.8,863.0 L1108.7,866.7 L1109.8,870.4 L1111.0,874.0 L1112.4,877.5 L1113.9,881.0 L1115.5,884.5 L1117.1,888.0 L1118.8,891.4 L1120.5,894.8 L1122.2,898.3 L1123.9,901.7 L1125.4,905.2 L1126.9,908.7 L1128.3,912.3 L1129.6,915.9 L1130.9,919.5 L1132.1,923.1 L1133.3,926.8 L1134.5,930.4 L1135.7,934.1 L1136.8,937.7 L1138.0,941.3 L1139.2,945.0 L1140.4,948.6 L1141.7,952.2 L1143.0,955.8 L1144.3,959.4 L1145.6,963.0 L1147.0,966.6 L1148.4,970.1 L1149.8,973.7 L1151.2,977.2 L1152.7,980.7 L1154.2,984.2 L1155.7,987.7 L1157.3,991.2 L1158.8,994.7 L1160.4,998.2 L1162.1,1001.6 L1163.7,1005.1 L1165.4,1008.5 L1167.1,1012.0 L1168.8,1015.4 L1170.6,1018.8 L1172.4,1022.2 L1174.2,1025.6 L1176.0,1029.0 L1177.8,1032.3 L1179.7,1035.7 L1181.5,1039.0 L1183.4,1042.4 L1185.3,1045.7 L1187.3,1049.0 L1189.2,1052.3 L1191.1,1055.6 L1193.1,1058.9 L1195.0,1062.2 L1197.0,1065.5 L1198.9,1068.7 L1200.9,1072.0 L1202.9,1075.2 L1204.9,1078.5 L1206.9,1081.7 L1209.0,1084.8 L1211.1,1088.0 L1213.2,1091.1 L1215.5,1094.2 L1217.8,1097.3 L1220.2,1100.3 L1222.6,1103.2 L1225.2,1106.1 L1227.8,1108.9 L1230.6,1111.7 L1233.4,1114.4 L1236.3,1116.9 L1239.3,1119.4 L1242.3,1121.7 L1245.5,1123.9 L1248.7,1125.9 L1251.9,1127.9 L1255.2,1129.7 L1258.6,1131.4 L1262.0,1133.1 L1265.5,1134.6 L1269.0,1136.0 L1272.5,1137.4 L1276.1,1138.7 L1279.7,1140.0 L1283.3,1141.2 L1287.0,1142.3 L1290.6,1143.4 L1294.3,1144.5 L1298.0,1145.6 L1301.7,1146.6 L1305.4,1147.7 L1309.1,1148.7 L1312.8,1149.7 L1316.5,1150.6 L1320.2,1151.6 L1323.9,1152.5 L1327.6,1153.4 L1331.3,1154.3 L1335.1,1155.2 L1338.8,1156.1 L1342.5,1156.9 L1346.3,1157.7 L1350.0,1158.5 L1353.8,1159.3 L1357.5,1160.1 L1361.3,1160.9 L1365.0,1161.6 L1368.8,1162.3 L1372.5,1163.0 L1376.3,1163.7 L1380.0,1164.4 L1383.8,1165.1 L1387.6,1165.7 L1391.4,1166.3 L1395.1,1166.9 L1398.9,1167.5 L1402.7,1168.1 L1406.5,1168.7 L1410.3,1169.2 L1414.1,1169.8 L1417.8,1170.3 L1421.6,1170.8 L1425.4,1171.3 L1429.2,1171.7 L1433.0,1172.2 L1436.8,1172.6 L1440.6,1173.1 L1444.4,1173.5 L1448.2,1173.9 L1452.1,1174.3 L1455.9,1174.6 L1459.7,1175.0 L1463.5,1175.3" stroke="#00ffff"/>
<path d="M418.1,23.6 L418.3,27.1 L418.5,30.6 L418.7,34.2 L418.9,37.7 L419.1,41.2 L419.2,44.7 L419.4,48.2 L419.6,51.7 L419.8,55.2 L419.9,58.7 L420.1,62.2 L420.3,65.7 L420.4,69.3 L420.6,72.8 L420.7,76.3 L420.9,79.8 L421.0,83.3 L421.2,86.8 L421.3,90.3 L421.5,93.8 L421.6,97.3 L421.8,100.8 L421.9,104.3 L422.1,107.9 L422.2,111.4 L422.3,114.9 L422.5,118.4 L422.6,121.9 L422.7,125.4 L422.9,128.9 L423.0,132.4 L423.2,135.9 L423.3,139.4 L423.4,142.9 L423.5,146.5 L423.7,150.0 L423.8,153.5 L423.9,157.0 L424.1,160.5 L424.2,164.0 L424.3,167.5 L424.5,171.0 L424.6,174.5 L424.8,178.0 L424.9,181.5 L425.0,185.1 L425.2,188.6 L425.3,192.1 L425.4,195.6 L425.6,199.1 L425.7,202.6 L425.9,206.1 L426.0,209.6 L426.2,213.1 L426.3,216.6 L426.5,220.1 L426.6,223.6 L426.8,227.1 L427.0,230.7 L427.1,234.2 L427.3,237.7 L427.4,241.2 L427.6,244.7 L427.8,248.2 L428.0,251.7 L428.1,255.2 L428.3,258.7 L428.5,262.2 L428.7,265.7 L428.9,269.2 L429.1,272.7 L429.3,276.2 L429.5,279.7 L429.7,283.3 L429.9,286.8 L430.1,290.3 L430.3,293.8 L430.6,297.3 L430.8,300.8 L431.0,304.3 L431.3,307.8 L431.5,311.3 L431.7,314.8 L432.0,318.3 L432.3,321.8 L432.5,325.3 L432.8,328.8 L433.0,332.3 L433.3,335.8 L433.6,339.3 L433.9,342.8 L434.2,346.3 L434.4,349.8 L434.7,353.3 L435.0,356.8 L435.3,360.3 L435.6,363.8 L435.9,367.3 L436.3,370.8 L436.6,374.3 L436.9,377.8 L437.2,381.3 L437.5,384.8 L437.9,388.3 L438.2,391.8 L438.6,395.3 L438.9,398.8 L439.2,402.3 L439.6,405.8 L439.9,409.3 L440.3,412.8 L440.6,416.3 L441.0,419.8 L441.4,423.3 L441.7,426.8 L442.1,430.3 L442.5,433.8 L442.9,437.2 L443.2,440.7 L443.6,444.2 L444.0,447.7 L444.4,451.2 L444.8,454.7 L445.2,458.2 L445.6,461.7 L446.0,465.1 L446.4,468.6 L446.8,472.1 L447.2,475.6 L447.6,479.1 L448.0,482.6 L448.5,486.0 L448.9,489.5 L449.3,493.0 L449.8,496.5 L450.2,500.0 L450.6,503.4 L451.1,506.9 L451.5,510.4 L452.0,513.9 L452.4,517.4 L452.9,520.8 L453.4,524.3 L453.9,527.8 L454.3,531.3 L454.8,534.7 L455.3,538.2 L455.8,541.7 L456.3,545.2 L456.8,548.6 L457.3,552.1 L457.8,555.6 L458.3,559.1 L458.9,562.5 L459.4,566.0 L459.9,569.5 L460.5,573.0 L461.0,576.4 L461.5,579.9 L462.1,583.4 L462.7,586.9 L463.2,590.3 L463.8,593.8 L464.4,597.3 L465.0,600.7 L465.6,604.2 L466.2,607.7 L466.8,611.1 L467.4,614.6 L468.1,618.1 L468.7,621.5 L469.4,625.0 L470.0,628.4 L470.7,631.9 L471.4,635.3 L472.1,638.8 L472.8,642.2 L473.5,645.6 L474.3,649.1 L475.0,652.5 L475.7,656.0 L476.5,659.4 L477.3,662.8 L478.1,666.2 L478.9,669.6 L479.7,673.1 L480.5,676.5 L481.4,679.9 L482.2,683.3 L483.1,686.7 L484.0,690.1 L484.9,693.5 L485.8,696.9 L486.7,700.2 L487.6,703.6 L488.6,707.0 L489.6,710.4 L490.6,713.7 L491.6,717.1 L492.6,720.4 L493.6,723.8 L494.7,727.1 L495.8,730.5 L496.9,733.8 L498.0,737.1 L499.1,740.4 L500.2,743.8 L501.4,747.1 L502.6,750.4 L503.8,753.7 L505.0,756.9 L506.3,760.2 L507.5,763.5 L508.8,766.8 L510.1,770.0 L511.4,773.3 L512.8,776.5 L514.2,779.8 L515.5,783.0 L516.9,786.2 L518.4,789.5 L519.8,792.7 L521.3,795.9 L522.8,799.1 L524.3,802.2 L525.9,805.4 L527.4,808.6 L529.0,811.8 L530.7,814.9 L532.3,818.1 L534.0,821.2 L535.7,824.3 L537.5,827.3 L539.4,830.2 L541.3,833.1 L543.4,835.8 L545.6,838.4 L548.0,840.9 L550.5,843.2 L553.1,845.3 L555.9,847.2 L559.0,849.0 L562.1,850.5 L565.4,852.0 L568.7,853.3 L572.2,854.6 L575.6,855.8 L579.1,856.9 L582.6,858.1 L586.0,859.3 L589.3,860.6 L592.6,861.9 L595.9,863.4 L599.0,864.9 L602.0,866.6 L604.9,868.4 L607.7,870.4 L610.3,872.5 L612.7,874.9 L615.1,877.4 L617.3,880.0 L619.5,882.8 L621.5,885.6 L623.5,888.5 L625.5,891.5 L627.4,894.4 L629.4,897.4 L631.3,900.4 L633.2,903.4 L635.1,906.4 L636.9,909.4 L638.8,912.4 L640.6,915.4 L642.5,918.4 L644.3,921.4 L646.1,924.5 L647.9,927.5 L649.7,930.5 L651.4,933.6 L653.2,936.6 L654.9,939.6 L656.7,942.7 L658.4,945.7 L660.1,948.8 L661.9,951.8 L663.6,954.9 L665.3,957.9 L667.0,961.0 L668.7,964.0 L670.4,967.0 L672.1,970.1 L673.9,973.1 L675.6,976.1 L677.5,979.1 L679.3,982.0 L681.2,985.0 L683.1,987.9 L685.1,990.8 L687.2,993.6 L689.3,996.5 L691.5,999.2 L693.8,1002.0 L696.2,1004.7 L698.6,1007.3 L701.2,1009.9 L703.8,1012.4 L706.5,1014.8 L709.3,1017.0 L712.2,1019.1 L715.2,1021.0 L718.2,1022.6 L721.3,1024.0 L724.5,1025.1 L727.8,1025.9 L731.1,1026.4 L734.5,1026.5 L737.9,1026.3 L741.3,1025.9 L744.7,1025.1 L748.1,1024.1 L751.5,1022.9 L754.8,1021.5 L758.0,1019.9 L761.1,1018.2 L764.2,1016.4 L767.1,1014.4 L769.9,1012.4 L772.6,1010.2 L775.2,1007.9 L777.8,1005.6 L780.3,1003.1 L782.7,1000.6 L785.0,998.1 L787.3,995.4 L789.6,992.7 L791.8,990.0 L794.0,987.2 L796.1,984.4 L798.2,981.6 L800.3,978.7 L802.4,975.9 L804.4,973.0 L806.5,970.1 L808.5,967.2 L810.6,964.4 L812.6,961.5 L814.7,958.6 L816.7,955.7 L818.7,952.8 L820.8,949.9 L822.8,947.1 L824.8,944.2 L826.8,941.3 L828.9,938.4 L830.9,935.5 L832.9,932.7 L835.0,929.8 L837.0,926.9 L839.1,924.1 L841.1,921.2 L843.2,918.4 L845.2,915.5 L847.3,912.7 L849.4,909.9 L851.4,907.1 L853.5,904.2 L855.6,901.4 L857.7,898.6 L859.8,895.8 L862.0,893.1 L864.1,890.3 L866.3,887.5 L868.4,884.8 L870.6,882.1 L872.8,879.3 L875.0,876.6 L877.2,873.9 L879.4,871.2 L881.7,868.6 L883.9,865.9 L886.2,863.3 L888.5,860.6 L890.9,858.0 L893.2,855.4 L895.6,852.9 L898.0,850.3 L900.4,847.8 L902.9,845.3 L905.4,842.9 L908.0,840.5 L910.6,838.1 L913.2,835.7 L915.9,833.4 L918.6,831.1 L921.4,828.9 L924.2,826.7 L927.1,824.5 L930.0,822.4 L933.0,820.3 L936.0,818.3 L939.1,816.5 L942.2,814.7 L945.4,813.2 L948.6,811.9 L951.9,810.8 L955.2,810.0 L958.6,809.5 L961.9,809.3 L965.3,809.5 L968.7,809.9 L972.1,810.5 L975.5,811.4 L978.8,812.5 L982.0,813.7 L985.2,815.1 L988.3,816.7 L991.3,818.4 L994.2,820.2 L997.1,822.1 L999.9,824.2 L1002.6,826.4 L1005.2,828.6 L1007.8,831.0 L1010.3,833.4 L1012.8,835.9 L1015.2,838.5 L1017.5,841.1 L1019.8,843.8 L1022.1,846.6 L1024.3,849.4 L1026.5,852.3 L1028.6,855.1 L1030.7,858.0 L1032.8,861.0 L1034.8,863.9 L1036.8,866.8 L1038.8,869.8 L1040.8,872.7 L1042.7,875.6 L1044.7,878.6 L1046.6,881.5 L1048.5,884.5 L1050.3,887.5 L1052.2,890.4 L1054.1,893.4 L1055.9,896.4 L1057.7,899.3 L1059.5,902.3 L1061.3,905.3 L1063.1,908.3 L1064.9,911.3 L1066.7,914.3 L1068.4,917.3 L1070.2,920.3 L1072.0,923.3 L1073.7,926.3 L1075.5,929.4 L1077.2,932.4 L1079.0,935.4 L1080.7,938.5 L1082.5,941.5 L1084.2,944.5 L1086.0,947.6 L1087.7,950.6 L1089.5,953.6 L1091.2,956.7 L1093.0,959.7 L1094.7,962.7 L1096.5,965.8 L1098.3,968.8 L1100.0,971.9 L1101.8,974.9 L1103.5,977.9 L1105.3,981.0 L1107.1,984.0 L1108.9,987.0 L1110.7,990.1 L1112.5,993.1 L1114.2,996.1 L1116.1,999.1 L1117.9,1002.2 L1119.7,1005.2 L1121.5,1008.2 L1123.4,1011.2 L1125.2,1014.2 L1127.1,1017.2 L1128.9,1020.2 L1130.8,1023.1 L1132.7,1026.1 L1134.6,1029.1 L1136.5,1032.0 L1138.4,1035.0 L1140.3,1037.9 L1142.3,1040.9 L1144.2,1043.8 L1146.2,1046.7 L1148.2,1049.6 L1150.2,1052.5 L1152.2,1055.4 L1154.3,1058.3 L1156.3,1061.1 L1158.4,1064.0 L1160.5,1066.8 L1162.6,1069.6 L1164.8,1072.4 L1166.9,1075.1 L1169.1,1077.9 L1171.3,1080.6 L1173.5,1083.3 L1175.8,1086.0 L1178.1,1088.7 L1180.4,1091.3 L1182.7,1093.9 L1185.0,1096.5 L1187.4,1099.1 L1189.8,1101.6 L1192.2,1104.1 L1194.7,1106.6 L1197.2,1109.0 L1199.7,1111.5 L1202.3,1113.9 L1204.9,1116.2 L1207.5,1118.6 L1210.1,1120.9 L1212.8,1123.1 L1215.6,1125.3 L1218.3,1127.5 L1221.1,1129.7 L1223.9,1131.8 L1226.8,1133.9 L1229.7,1135.8 L1232.7,1137.8 L1235.7,1139.6 L1238.7,1141.3 L1241.8,1143.0 L1244.9,1144.5 L1248.1,1145.9 L1251.4,1147.2 L1254.7,1148.4 L1258.0,1149.4 L1261.4,1150.3 L1264.8,1151.2 L1268.3,1151.9 L1271.7,1152.6 L1275.2,1153.2 L1278.7,1153.8 L1282.2,1154.4 L1285.7,1154.9 L1289.2,1155.5 L1292.6,1156.0 L1296.1,1156.5 L1299.6,1157.0 L1303.0,1157.5 L1306.5,1158.0 L1310.0,1158.5 L1313.4,1159.0 L1316.9,1159.5 L1320.4,1160.0 L1323.9,1160.5 L1327.3,1160.9 L1330.8,1161.4 L1334.3,1161.9 L1337.8,1162.4 L1341.3,1162.9 L1344.7,1163.3 L1348.2,1163.8 L1351.7,1164.2 L1355.2,1164.6 L1358.7,1165.1 L1362.2,1165.5 L1365.7,1165.9 L1369.1,1166.3 L1372.6,1166.7 L1376.1,1167.1 L1379.6,1167.5 L1383.1,1167.9 L1386.6,1168.2 L1390.1,1168.6 L1393.6,1169.0 L1397.1,1169.3 L1400.6,1169.7 L1404.1,1170.0 L1407.6,1170.4 L1411.1,1170.7 L1414.6,1171.0 L1418.1,1171.4 L1421.5,1171.7 L1425.0,1172.0 L1428.5,1172.4 L1432.0,1172.7 L1435.5,1173.0 L1439.0,1173.3 L1442.5,1173.7 L1446.0,1174.0 L1449.5,1174.3 L1453.0,1174.6 L1456.5,1174.9 L1460.0,1175.2 L1463.5,1175.6" stroke="#ff00ff"/>
<path d="M427.9,23.3 L427.9,26.4 L428.0,29.5 L428.0,32.6 L428.1,35.7 L428.2,38.8 L428.2,41.9 L428.3,45.1 L428.4,48.2 L428.4,51.3 L428.5,54.4 L428.6,57.5 L428.7,60.6 L428.7,63.7 L428.8,66.8 L428.9,69.9 L429.0,73.0 L429.1,76.1 L429.1,79.2 L429.2,82.3 L429.3,85.4 L429.4,88.5 L429.5,91.7 L429.6,94.8 L429.7,97.9 L429.8,101.0 L429.9,104.1 L430.0,107.2 L430.1,110.3 L430.2,113.4 L430.3,116.5 L430.4,119.6 L430.5,122.7 L430.6,125.8 L430.7,128.9 L430.8,132.0 L430.9,135.1 L431.0,138.2 L431.1,141.3 L431.3,144.4 L431.4,147.5 L431.5,150.6 L431.6,153.7 L431.7,156.8 L431.9,159.9 L432.0,163.0 L432.1,166.1 L432.2,169.2 L432.4,172.3 L432.5,175.4 L432.6,178.5 L432.8,181.6 L432.9,184.7 L433.1,187.8 L433.2,190.9 L433.3,194.0 L433.5,197.1 L433.6,200.2 L433.8,203.3 L433.9,206.4 L434.1,209.5 L434.3,212.6 L434.4,215.7 L434.6,218.8 L434.7,221.9 L434.9,225.0 L435.1,228.1 L435.2,231.2 L435.4,234.3 L435.6,237.4 L435.7,240.5 L435.9,243.6 L436.1,246.7 L436.2,249.8 L436.4,252.9 L436.6,256.0 L436.8,259.0 L437.0,262.1 L437.2,265.2 L437.3,268.3 L437.5,271.4 L437.7,274.5 L437.9,277.6 L438.1,280.7 L438.3,283.8 L438.5,286.9 L438.7,290.0 L438.9,293.1 L439.1,296.2 L439.3,299.3 L439.5,302.4 L439.8,305.5 L440.0,308.6 L440.2,311.6 L440.4,314.7 L440.6,317.8 L440.8,320.9 L441.1,324.0 L441.3,327.1 L441.5,330.2 L441.7,333.3 L442.0,336.4 L442.2,339.5 L442.4,342.6 L442.7,345.7 L442.9,348.8 L443.2,351.8 L443.4,354.9 L443.7,358.0 L443.9,361.1 L444.1,364.2 L444.4,367.3 L444.7,370.4 L444.9,373.5 L445.2,376.6 L445.4,379.7 L445.7,382.8 L446.0,385.9 L446.2,388.9 L446.5,392.0 L446.8,395.1 L447.0,398.2 L447.3,401.3 L447.6,404.4 L447.9,407.5 L448.2,410.6 L448.4,413.7 L448.7,416.8 L449.0,419.8 L449.3,422.9 L449.6,426.0 L449.9,429.1 L450.2,432.2 L450.5,435.3 L450.8,438.4 L451.1,441.5 L451.4,444.6 L451.7,447.6 L452.0,450.7 L452.3,453.8 L452.7,456.9 L453.0,460.0 L453.3,463.1 L453.6,466.2 L454.0,469.3 L454.3,472.4 L454.6,475.4 L454.9,478.5 L455.3,481.6 L455.6,484.7 L456.0,487.8 L456.3,490.9 L456.6,494.0 L457.0,497.1 L457.3,500.1 L457.7,503.2 L458.0,506.3 L458.4,509.4 L458.8,512.5 L459.1,515.6 L459.5,518.7 L459.9,521.8 L460.2,524.8 L460.6,527.9 L461.0,531.0 L461.4,534.1 L461.8,537.2 L462.2,540.3 L462.6,543.3 L463.0,546.4 L463.4,549.5 L463.8,552.6 L464.2,555.7 L464.6,558.7 L465.0,561.8 L465.5,564.9 L465.9,568.0 L466.4,571.0 L466.8,574.1 L467.3,577.2 L467.8,580.3 L468.3,583.3 L468.7,586.4 L469.2,589.4 L469.7,592.5 L470.3,595.6 L470.8,598.6 L471.3,601.7 L471.8,604.7 L472.4,607.8 L473.0,610.8 L473.5,613.9 L474.1,616.9 L474.7,620.0 L475.3,623.0 L475.9,626.0 L476.5,629.1 L477.1,632.1 L477.8,635.1 L478.4,638.2 L479.1,641.2 L479.8,644.2 L480.5,647.2 L481.2,650.2 L481.9,653.2 L482.6,656.2 L483.3,659.3 L484.1,662.3 L484.9,665.3 L485.6,668.2 L486.4,671.2 L487.2,674.2 L488.1,677.2 L488.9,680.2 L489.8,683.2 L490.6,686.1 L491.5,689.1 L492.4,692.1 L493.3,695.0 L494.2,698.0 L495.2,700.9 L496.1,703.9 L497.1,706.8 L498.1,709.8 L499.1,712.7 L500.2,715.6 L501.2,718.5 L502.3,721.5 L503.3,724.4 L504.4,727.3 L505.6,730.2 L506.7,733.1 L507.8,736.0 L509.0,738.9 L510.2,741.8 L511.4,744.6 L512.7,747.5 L514.0,750.3 L515.4,753.1 L516.7,755.9 L518.2,758.6 L519.6,761.4 L521.2,764.0 L522.7,766.7 L524.4,769.4 L526.0,772.0 L527.7,774.6 L529.4,777.2 L531.1,779.7 L532.9,782.3 L534.7,784.8 L536.4,787.4 L538.2,789.9 L540.1,792.4 L541.9,794.9 L543.7,797.4 L545.6,799.9 L547.4,802.4 L549.3,804.9 L551.1,807.3 L553.0,809.8 L554.9,812.3 L556.8,814.8 L558.7,817.2 L560.6,819.7 L562.5,822.1 L564.3,824.6 L566.2,827.1 L568.1,829.5 L570.0,832.0 L571.9,834.4 L573.8,836.9 L575.7,839.4 L577.6,841.8 L579.5,844.3 L581.4,846.8 L583.3,849.2 L585.1,851.7 L587.0,854.2 L588.8,856.7 L590.7,859.2 L592.5,861.7 L594.4,864.2 L596.2,866.7 L598.0,869.2 L599.8,871.8 L601.6,874.3 L603.3,876.9 L605.1,879.4 L606.8,882.0 L608.6,884.5 L610.3,887.1 L612.0,889.7 L613.7,892.3 L615.3,894.9 L617.0,897.5 L618.6,900.2 L620.3,902.8 L621.9,905.4 L623.6,908.1 L625.2,910.7 L626.8,913.3 L628.5,916.0 L630.1,918.6 L631.7,921.2 L633.4,923.9 L635.0,926.5 L636.7,929.1 L638.3,931.8 L640.0,934.4 L641.6,937.0 L643.3,939.6 L645.0,942.2 L646.7,944.9 L648.4,947.5 L650.1,950.0 L651.8,952.6 L653.5,955.2 L655.3,957.8 L657.0,960.3 L658.8,962.9 L660.5,965.5 L662.3,968.0 L664.1,970.5 L665.9,973.0 L667.7,975.6 L669.6,978.0 L671.4,980.5 L673.3,983.0 L675.1,985.5 L677.0,987.9 L678.9,990.4 L680.9,992.8 L682.8,995.2 L684.7,997.6 L686.7,1000.0 L688.7,1002.4 L690.7,1004.7 L692.7,1007.1 L694.8,1009.4 L696.8,1011.7 L698.9,1014.0 L701.0,1016.3 L703.1,1018.6 L705.2,1020.8 L707.4,1023.0 L709.6,1025.2 L711.8,1027.4 L714.0,1029.6 L716.2,1031.7 L718.5,1033.9 L720.8,1036.0 L723.1,1038.1 L725.4,1040.1 L727.7,1042.2 L730.1,1044.2 L732.4,1046.2 L734.8,1048.2 L737.2,1050.2 L739.7,1052.1 L742.1,1054.1 L744.6,1056.0 L747.1,1057.8 L749.6,1059.7 L752.1,1061.5 L754.6,1063.3 L757.2,1065.1 L759.7,1066.9 L762.3,1068.6 L764.9,1070.3 L767.5,1072.0 L770.2,1073.7 L772.8,1075.3 L775.5,1076.9 L778.2,1078.5 L780.8,1080.1 L783.5,1081.6 L786.3,1083.1 L789.0,1084.6 L791.7,1086.1 L794.5,1087.5 L797.3,1088.9 L800.1,1090.3 L802.9,1091.6 L805.7,1092.9 L808.5,1094.1 L811.4,1095.3 L814.3,1096.4 L817.2,1097.4 L820.1,1098.4 L823.0,1099.2 L826.0,1100.0 L829.0,1100.6 L832.0,1101.2 L835.0,1101.7 L838.1,1102.1 L841.1,1102.5 L844.2,1102.7 L847.3,1102.9 L850.4,1103.0 L853.4,1103.1 L856.5,1103.1 L859.6,1103.1 L862.7,1103.0 L865.8,1102.8 L868.9,1102.6 L872.0,1102.4 L875.1,1102.2 L878.2,1101.9 L881.3,1101.6 L884.4,1101.4 L887.6,1101.1 L890.7,1100.8 L893.8,1100.5 L896.9,1100.2 L900.0,1099.9 L903.1,1099.7 L906.2,1099.5 L909.3,1099.3 L912.4,1099.2 L915.5,1099.1 L918.6,1099.0 L921.7,1099.0 L924.8,1099.1 L927.9,1099.1 L931.0,1099.2 L934.1,1099.4 L937.2,1099.6 L940.2,1099.8 L943.3,1100.1 L946.4,1100.4 L949.5,1100.7 L952.6,1101.1 L955.6,1101.4 L958.7,1101.9 L961.8,1102.3 L964.9,1102.8 L967.9,1103.3 L971.0,1103.8 L974.0,1104.3 L977.1,1104.9 L980.2,1105.5 L983.2,1106.1 L986.3,1106.7 L989.3,1107.4 L992.3,1108.0 L995.4,1108.7 L998.4,1109.4 L1001.5,1110.1 L1004.5,1110.8 L1007.5,1111.5 L1010.5,1112.3 L1013.5,1113.0 L1016.6,1113.8 L1019.6,1114.5 L1022.6,1115.3 L1025.6,1116.0 L1028.6,1116.8 L1031.6,1117.6 L1034.6,1118.4 L1037.5,1119.1 L1040.5,1120.0 L1043.5,1120.8 L1046.5,1121.6 L1049.4,1122.5 L1052.4,1123.4 L1055.3,1124.2 L1058.3,1125.2 L1061.2,1126.1 L1064.2,1127.0 L1067.1,1128.0 L1070.1,1128.9 L1073.0,1129.9 L1076.0,1130.8 L1078.9,1131.8 L1081.9,1132.7 L1084.9,1133.6 L1087.8,1134.5 L1090.8,1135.4 L1093.8,1136.3 L1096.8,1137.2 L1099.8,1138.0 L1102.8,1138.9 L1105.8,1139.7 L1108.8,1140.5 L1111.8,1141.3 L1114.8,1142.1 L1117.8,1142.8 L1120.8,1143.5 L1123.9,1144.2 L1126.9,1144.9 L1129.9,1145.6 L1133.0,1146.3 L1136.0,1146.9 L1139.0,1147.5 L1142.1,1148.1 L1145.1,1148.7 L1148.2,1149.2 L1151.2,1149.7 L1154.3,1150.2 L1157.4,1150.7 L1160.4,1151.2 L1163.5,1151.6 L1166.6,1152.0 L1169.6,1152.4 L1172.7,1152.8 L1175.8,1153.2 L1178.9,1153.6 L1181.9,1153.9 L1185.0,1154.3 L1188.1,1154.6 L1191.2,1154.9 L1194.3,1155.2 L1197.4,1155.5 L1200.5,1155.8 L1203.5,1156.0 L1206.6,1156.3 L1209.7,1156.5 L1212.8,1156.8 L1215.9,1157.0 L1219.0,1157.2 L1222.1,1157.5 L1225.2,1157.7 L1228.3,1157.9 L1231.4,1158.1 L1234.5,1158.3 L1237.6,1158.5 L1240.7,1158.7 L1243.8,1158.9 L1246.9,1159.1 L1250.0,1159.3 L1253.1,1159.5 L1256.2,1159.7 L1259.3,1159.9 L1262.4,1160.1 L1265.5,1160.3 L1268.6,1160.6 L1271.7,1160.8 L1274.8,1161.0 L1277.9,1161.2 L1281.0,1161.4 L1284.1,1161.6 L1287.1,1161.8 L1290.2,1162.0 L1293.3,1162.2 L1296.4,1162.4 L1299.5,1162.6 L1302.6,1162.8 L1305.7,1163.1 L1308.8,1163.3 L1311.9,1163.5 L1315.0,1163.7 L1318.1,1163.9 L1321.2,1164.1 L1324.3,1164.3 L1327.4,1164.6 L1330.5,1164.8 L1333.6,1165.0 L1336.7,1165.2 L1339.8,1165.4 L1342.8,1165.6 L1345.9,1165.9 L1349.0,1166.1 L1352.1,1166.3 L1355.2,1166.5 L1358.3,1166.7 L1361.4,1166.9 L1364.5,1167.2 L1367.6,1167.4 L1370.7,1167.6 L1373.8,1167.8 L1376.9,1168.1 L1380.0,1168.3 L1383.1,1168.5 L1386.2,1168.7 L1389.3,1168.9 L1392.4,1169.2 L1395.4,1169.4 L1398.5,1169.6 L1401.6,1169.8 L1404.7,1170.1 L1407.8,1170.3 L1410.9,1170.5 L1414.0,1170.7 L1417.1,1171.0 L1420.2,1171.2 L1423.3,1171.4 L1426.4,1171.6 L1429.5,1171.9 L1432.6,1172.1 L1435.7,1172.3 L1438.8,1172.5 L1441.9,1172.8 L1445.0,1173.0 L1448.1,1173.2 L1451.2,1173.4 L1454.3,1173.7 L1457.4,1173.9 L1460.4,1174.1 L1463.5,1174.4" stroke="#000080"/>
</g>
<g stroke-width="9.8" stroke-linecap="round" fill="none">
<line x1="1328" y1="701.5" x2="1446.7" y2="701.5" stroke="#ff0000"/>
<line x1="1328" y1="766.9" x2="1446.7" y2="766.9" stroke="#00ff00"/>
<line x1="1328" y1="832.3" x2="1446.7" y2="832.3" stroke="#0000ff"/>
<line x1="1328" y1="897.8" x2="1446.7" y2="897.8" stroke="#00ffff"/>
<line x1="1328" y1="963.2" x2="1446.7" y2="963.2" stroke="#ff00ff"/>
<line x1="1328" y1="1028.6" x2="1446.7" y2="1028.6" stroke="#000080"/>
</g><g class="lg">
<text transform="translate(1460.3 718.4) scale(0.964 1)">0</text>
<text transform="translate(1460.3 783.8) scale(0.964 1)">1 hr</text>
<text transform="translate(1460.3 849.2) scale(0.964 1)">3 hr</text>
<text transform="translate(1460.3 914.7) scale(0.964 1)">5 hr</text>
<text transform="translate(1460.3 980.1) scale(0.964 1)">14 hr</text>
<text transform="translate(1460.3 1045.5) scale(0.964 1)">21.5 hr</text>
</g>
</svg></body></html>
